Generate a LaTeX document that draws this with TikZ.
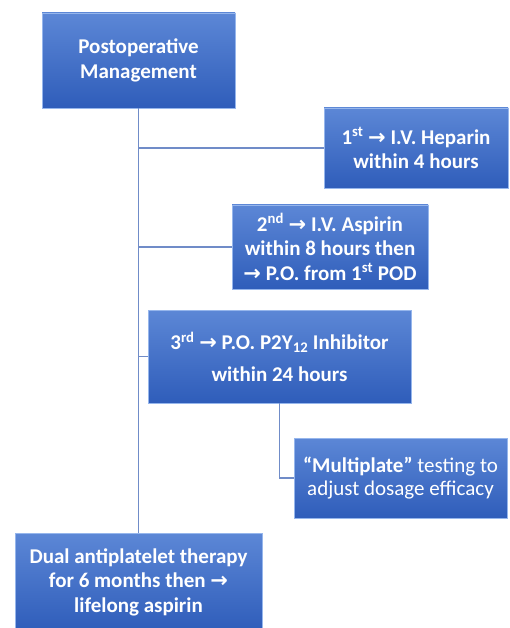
\documentclass[tikz,border=0pt]{standalone}
\usepackage{fontspec}
\setmainfont{Carlito}
\newfontfamily\arrowfont{DejaVu Sans}
\usetikzlibrary{shadows}
\definecolor{boxtop}{RGB}{92,135,214}
\definecolor{boxbot}{RGB}{47,93,186}
\definecolor{boxedge}{RGB}{150,182,236}
\definecolor{linkcol}{RGB}{112,140,200}
\newcommand{\arr}{{\arrowfont\bfseries\char"2192}}
\tikzset{
  box/.style={rectangle, top color=boxtop, bottom color=boxbot, draw=boxedge, line width=0.8pt,
    text=white, align=center, inner sep=2pt,
    font=\fontsize{21}{24.6}\selectfont\bfseries,
    drop shadow={shadow xshift=1.2pt, shadow yshift=-1.2pt, opacity=0.25, fill=black}},
  link/.style={draw=linkcol, line width=1.6pt}
}
\begin{document}
\begin{tikzpicture}[x=1pt,y=-1pt]
\useasboundingbox (0,0) rectangle (510,628);
\clip (0,0) rectangle (510,628);
\node[box, minimum width=193pt, minimum height=95pt] (b1) at (138.5,60.5) {Postoperative\\Management};
\node[box, minimum width=184pt, minimum height=80pt] (b2) at (416,148) {1\textsuperscript{st} \arr{} I.V. Heparin\\within 4 hours};
\node[box, minimum width=196pt, minimum height=84pt] (b3) at (330,247) {2\textsuperscript{nd} \arr{} I.V. Aspirin\\within 8 hours then\\\arr{} P.O. from 1\textsuperscript{st} POD};
\node[box, minimum width=263pt, minimum height=93pt] (b4) at (279.5,356.5) {3\textsuperscript{rd} \arr{} P.O. P2Y\textsubscript{12} Inhibitor\\[7pt]within 24 hours};
\node[box, minimum width=213pt, minimum height=80pt, font=\fontsize{21}{22.5}\selectfont] (b5) at (400.5,478) {\textbf{“Multiplate”} testing to\\adjust dosage efficacy};
\node[box, minimum width=247pt, minimum height=98pt] (b6) at (138.5,582) {Dual antiplatelet therapy\\for 6 months then \arr\\lifelong aspirin};
\draw[link] (b1.south) -- (b6.north);
\draw[link] (b1.south |- b2.west) -- (b2.west);
\draw[link] (b1.south |- b3.west) -- (b3.west);
\draw[link] (b1.south |- b4.west) -- (b4.west);
\draw[link] (b4.south) |- (b5.west);
\end{tikzpicture}
\end{document}
